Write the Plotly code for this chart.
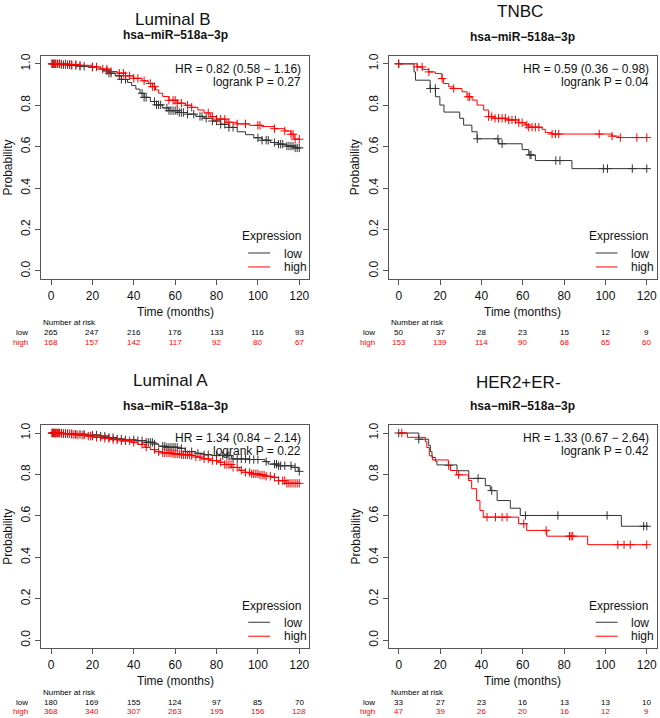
import numpy as np
import plotly.graph_objects as go

W, H = 660, 718
FONT = "Liberation Sans, Arial, sans-serif"
RED = "#ff0000"
DARK = "#333333"

# ---------------- data ----------------
risk_times = [0, 20, 40, 60, 80, 100, 120]
x_ticks = [0, 20, 40, 60, 80, 100, 120]
y_ticks = [0.0, 0.2, 0.4, 0.6, 0.8, 1.0]

# Luminal B
lumb_low_t = [0, 5, 10, 14, 18, 22, 25, 28, 31, 34, 37, 39, 41, 43, 45, 48, 51, 54, 57, 62, 66,
              70, 74, 78, 82, 86, 90, 94, 98, 102, 106, 110, 114, 118]
lumb_low_s = [1.0, 0.996, 0.992, 0.988, 0.984, 0.975, 0.966, 0.955, 0.942, 0.925, 0.91, 0.895,
              0.878, 0.858, 0.838, 0.818, 0.802, 0.787, 0.774, 0.765, 0.757, 0.746, 0.737, 0.724,
              0.708, 0.693, 0.672, 0.658, 0.643, 0.631, 0.62, 0.612, 0.603, 0.594]
lumb_low_cens = [0.5, 1, 1.5, 2, 3, 4, 5, 6, 7, 8, 9, 10, 12, 14, 16, 20, 27, 28, 29, 33, 34, 36,
                 44, 45, 46, 50, 51, 52, 53, 56, 57, 58, 59, 60, 61, 62, 63, 64, 66, 69, 72, 73,
                 75, 78, 80, 82, 84, 86, 88, 100, 102, 104, 105, 108, 110, 111, 112, 114, 115,
                 116, 117, 118, 119, 120]
lumb_high_t = [0, 8, 14, 20, 24, 28, 32, 36, 40, 44, 47, 49, 50.5, 52, 54, 57, 61, 65, 68, 71, 74,
               77, 80, 85, 90, 96, 102, 108, 113, 116, 117.5]
lumb_high_s = [1.0, 0.997, 0.993, 0.985, 0.975, 0.963, 0.955, 0.942, 0.93, 0.918, 0.905, 0.89,
               0.874, 0.858, 0.842, 0.824, 0.81, 0.8, 0.79, 0.777, 0.763, 0.745, 0.733, 0.718,
               0.71, 0.703, 0.697, 0.687, 0.676, 0.66, 0.636]
lumb_high_cens = [0.5, 1, 2, 3, 4, 5, 7, 9, 10, 12, 14, 20, 22, 25, 27, 29, 33, 35, 36, 38, 40, 42,
                  45, 48, 49, 50, 57, 59, 60, 61, 63, 66, 68, 76, 78, 80, 82, 84, 86, 90, 94, 100,
                  101, 108, 113, 116, 117, 118, 120]
lumb_low_risk = [265, 247, 216, 176, 133, 116, 93]
lumb_high_risk = [168, 157, 142, 117, 92, 80, 67]

# TNBC
tnbc_low_t = [0, 7.4, 8.1, 15.2, 17.8, 19.9, 21.9, 29.5, 31.4, 35.4, 37.9, 48.4, 59.7, 62.9,
              66.1, 83.8]
tnbc_low_s = [1.0, 0.961, 0.921, 0.881, 0.841, 0.801, 0.767, 0.737, 0.704, 0.672, 0.638, 0.614,
              0.586, 0.56, 0.533, 0.494]
tnbc_low_cens = [0, 15.3, 17.7, 38, 48, 50, 63.5, 64, 76, 78, 99, 101, 113, 120]
tnbc_high_t = [0, 8.9, 11.5, 14.5, 17.7, 20.9, 21.7, 24.2, 26.6, 30.6, 33, 35.5, 37.9, 41.1, 43.5,
               45.9, 52, 58, 61.3, 62.9, 69.3, 70.9, 74.2, 103.2, 106.4]
tnbc_high_s = [1.0, 0.985, 0.973, 0.961, 0.953, 0.929, 0.905, 0.889, 0.881, 0.865, 0.841, 0.825,
               0.801, 0.777, 0.745, 0.737, 0.729, 0.716, 0.705, 0.694, 0.684, 0.668, 0.661, 0.651,
               0.644]
tnbc_high_cens = [0, 8.9, 11.3, 14.6, 21, 26.6, 33.5, 34.3, 43.5, 45, 46.6, 48.3, 50, 51.6, 53.2,
                  54.8, 56.5, 58.1, 59.7, 62, 62.9, 64.5, 66.1, 67.8, 74.2, 75.8, 77.4, 97, 103.2,
                  107.2, 115.2, 120]
tnbc_low_risk = [50, 37, 28, 23, 15, 12, 9]
tnbc_high_risk = [153, 139, 114, 90, 68, 65, 60]

# Luminal A
luma_low_t = [0, 6, 12, 18, 24, 28, 31, 36, 41, 46, 50, 52, 56, 61.5, 64.8, 70, 74, 77.7, 87.3,
              96, 103.4, 105, 110, 116.3, 119.5]
luma_low_s = [1.0, 0.997, 0.994, 0.99, 0.985, 0.978, 0.971, 0.967, 0.963, 0.955, 0.947, 0.936,
              0.931, 0.926, 0.91, 0.902, 0.895, 0.891, 0.875, 0.872, 0.862, 0.85, 0.842, 0.834,
              0.815]
luma_low_cens = [0.5, 1, 1.5, 2, 3, 4, 5, 6, 7, 8, 10, 12, 14, 16, 20, 22, 24, 26, 28, 30, 32, 34,
                 36, 40, 42, 44, 46, 47, 48, 49, 50, 54, 55, 56, 57, 58, 59, 60, 61, 63, 65, 68,
                 71, 74, 76, 80, 83, 85, 86, 88, 90, 92, 94, 96, 98, 100, 104, 108, 109, 110, 111,
                 113, 116, 118, 120]
luma_high_t = [0, 5, 10, 13, 17, 21, 25, 29, 34, 39, 42, 45.4, 48, 50.3, 54, 58.3, 63, 68, 70,
               72.8, 77, 80.9, 84, 87.3, 91, 93.8, 97, 100.2, 104, 106.7, 109.9, 113.1]
luma_high_s = [1.0, 0.997, 0.993, 0.99, 0.985, 0.979, 0.974, 0.968, 0.962, 0.955, 0.945, 0.931,
               0.92, 0.91, 0.904, 0.899, 0.895, 0.891, 0.884, 0.875, 0.867, 0.859, 0.848, 0.834,
               0.82, 0.81, 0.803, 0.797, 0.791, 0.786, 0.77, 0.757]
luma_high_cens = [0.5, 1, 1.5, 2, 2.5, 3, 3.5, 4, 5, 6, 7, 8, 9, 10, 11, 12, 13, 15, 16, 18, 19,
                  20, 22, 24, 26, 28, 30, 32, 34, 36, 38, 40, 44, 46, 50, 52, 54, 55, 56, 57, 58,
                  59, 60, 61, 62, 63, 64, 65, 66, 67, 68, 70, 72, 74, 76, 78, 80, 82, 84, 85, 86,
                  87, 88, 90, 92, 94, 96, 97, 98, 99, 100, 101, 102, 103, 104, 106, 108, 110, 112,
                  113, 114, 115, 116, 117, 118, 119, 120]
luma_low_risk = [180, 169, 155, 124, 97, 85, 70]
luma_high_risk = [368, 340, 307, 263, 195, 156, 128]

# HER2+ER-
her2_low_t = [0, 9.7, 14.5, 15.3, 16.1, 17.7, 18.5, 28.2, 33.9, 41.9, 44.3, 47.6, 54, 58.8, 107.7]
her2_low_s = [1.0, 0.97, 0.94, 0.91, 0.882, 0.864, 0.846, 0.818, 0.781, 0.746, 0.722, 0.674,
              0.637, 0.602, 0.55]
her2_low_cens = [0, 9.7, 38.4, 45, 61.3, 77, 100.8, 118.5, 120]
her2_high_t = [0, 4.2, 12.9, 13.6, 14.8, 16.3, 24, 25, 28, 33.7, 35.3, 37.7, 39.3, 40.9, 58, 61.9,
               71.6, 91.4]
her2_high_s = [1.0, 0.979, 0.958, 0.93, 0.89, 0.87, 0.843, 0.819, 0.798, 0.771, 0.731, 0.674,
               0.626, 0.594, 0.562, 0.53, 0.502, 0.461]
her2_high_cens = [1.5, 24.2, 29, 42.7, 46.8, 50, 52.4, 60.5, 71.3, 82.6, 83.4, 84.2, 106, 109,
                  112, 120]
her2_low_risk = [33, 27, 23, 16, 13, 13, 10]
her2_high_risk = [47, 39, 26, 20, 16, 12, 9]

panels = [
    dict(title="Luminal B", hr="HR = 0.82 (0.58 − 1.16)", p="logrank P = 0.27",
         low=(lumb_low_t, lumb_low_s, lumb_low_cens, lumb_low_risk),
         high=(lumb_high_t, lumb_high_s, lumb_high_cens, lumb_high_risk),
         box=(41.1, 309.2, 53.7, 278.0), toff=(35.8, 20.2), tdx=-2.6),
    dict(title="TNBC", hr="HR = 0.59 (0.36 − 0.98)", p="logrank P = 0.04",
         low=(tnbc_low_t, tnbc_low_s, tnbc_low_cens, tnbc_low_risk),
         high=(tnbc_high_t, tnbc_high_s, tnbc_high_cens, tnbc_high_risk),
         box=(388.8, 656.7, 53.7, 278.0), toff=(43.7, 18.7), tdx=-3.0),
    dict(title="Luminal A", hr="HR = 1.34 (0.84 − 2.14)", p="logrank P = 0.22",
         low=(luma_low_t, luma_low_s, luma_low_cens, luma_low_risk),
         high=(luma_high_t, luma_high_s, luma_high_cens, luma_high_risk),
         box=(41.1, 309.2, 423.9, 648.3), toff=(43.9, 18.9), tdx=-5.0),
    dict(title="HER2+ER-", hr="HR = 1.33 (0.67 − 2.64)", p="logrank P = 0.42",
         low=(her2_low_t, her2_low_s, her2_low_cens, her2_low_risk),
         high=(her2_high_t, her2_high_s, her2_high_cens, her2_high_risk),
         box=(388.8, 656.7, 423.9, 648.3), toff=(42.2, 18.9), tdx=-4.4),
]


def px(x):
    return x / W


def py(y):
    return 1 - y / H


def step_at(t, s, x):
    i = np.searchsorted(np.array(t), np.array(x), side="right") - 1
    return np.array(s)[np.clip(i, 0, len(s) - 1)]


fig = go.Figure()
annotations = []
shapes = []

for k, p in enumerate(panels, start=1):
    xa = "x" if k == 1 else f"x{k}"
    ya = "y" if k == 1 else f"y{k}"
    left, right, top, bottom = p["box"]
    cx = (left + right) / 2

    for grp, col in (("low", DARK), ("high", RED)):
        t, s, cens, risk = p[grp]
        fig.add_trace(go.Scatter(
            x=list(t) + [120], y=list(s) + [s[-1]], mode="lines",
            line=dict(color=col, width=1, shape="hv"),
            xaxis=xa, yaxis=ya, showlegend=False, hoverinfo="skip"))
        fig.add_trace(go.Scatter(
            x=cens, y=step_at(t, s, cens), mode="markers",
            marker=dict(symbol="cross-thin", size=6, line=dict(color=col, width=1)),
            xaxis=xa, yaxis=ya, showlegend=False, hoverinfo="skip"))

    axis_common = dict(showline=True, mirror=True, linecolor="#555555", linewidth=1,
                       ticks="outside", ticklen=5, tickcolor="#555555", showgrid=False,
                       zeroline=False, tickfont=dict(family=FONT, size=12, color="#111111"))
    fig.update_layout(**{
        ("xaxis" if k == 1 else f"xaxis{k}"): dict(
            domain=[px(left), px(right)], range=[-4.8, 124.8], tickvals=x_ticks,
            anchor=ya, **axis_common),
        ("yaxis" if k == 1 else f"yaxis{k}"): dict(
            domain=[py(bottom), py(top)], range=[-0.04, 1.04], tickvals=y_ticks,
            tickformat=".1f", tickangle=-90, anchor=xa, **axis_common),
    })

    def add_text(x, y, text, size=12, xanchor="center", color="#111111", bold=False,
                 angle=0, xref="paper"):
        annotations.append(dict(
            x=x, y=py(y), xref=xref, yref="paper", text=f"<b>{text}</b>" if bold else text,
            showarrow=False, xanchor=xanchor, yanchor="middle", textangle=angle,
            font=dict(family=FONT, size=size, color=color)))

    # titles
    add_text(px(cx + p["tdx"]), top - p["toff"][0], p["title"], size=17)
    add_text(px(cx), top - p["toff"][1], "hsa−miR−518a−3p", size=12, bold=True)
    # stats
    add_text(px(right - 6), top + 13, p["hr"], xanchor="right")
    add_text(px(right - 6), top + 26.3, p["p"], xanchor="right")
    # axis titles
    add_text(px(cx), bottom + 32.7, "Time (months)")
    add_text(px(left - 33), (top + bottom) / 2, "Probability", angle=-90)
    # legend
    add_text(px(right - 6.5), bottom - 43, "Expression", xanchor="right")
    add_text(px(right - 27.5), bottom - 25.7, "low", xanchor="left")
    add_text(px(right - 27.5), bottom - 12.3, "high", xanchor="left")
    for yy, col in ((bottom - 26.3, DARK), (bottom - 12.3, RED)):
        shapes.append(dict(type="line", xref="paper", yref="paper",
                           x0=px(right - 61), x1=px(right - 39.2), y0=py(yy), y1=py(yy),
                           line=dict(color=col, width=1)))
    # number at risk table
    add_text(px(left), bottom + 43.7, "Number at risk", size=8, xanchor="left", color="black")
    add_text(px(left - 11.4), bottom + 53.7, "low", size=8, xanchor="right", color="black")
    add_text(px(left - 11.4), bottom + 63.0, "high", size=8, xanchor="right", color=RED)
    for tt, nl, nh in zip(risk_times, p["low"][3], p["high"][3]):
        add_text(tt, bottom + 53.7, str(nl), size=8, xref=xa, color="black")
        add_text(tt, bottom + 63.0, str(nh), size=8, xref=xa, color=RED)

fig.update_layout(
    width=W, height=H, margin=dict(l=0, r=0, t=0, b=0),
    paper_bgcolor="white", plot_bgcolor="white",
    annotations=annotations, shapes=shapes, showlegend=False,
)

# page body has a default 8px margin; drop it so the figure fills the window
fig.write_html("out.html", config={"displayModeBar": False},
               post_script="document.body.style.margin='0';document.body.style.overflow='hidden';")
